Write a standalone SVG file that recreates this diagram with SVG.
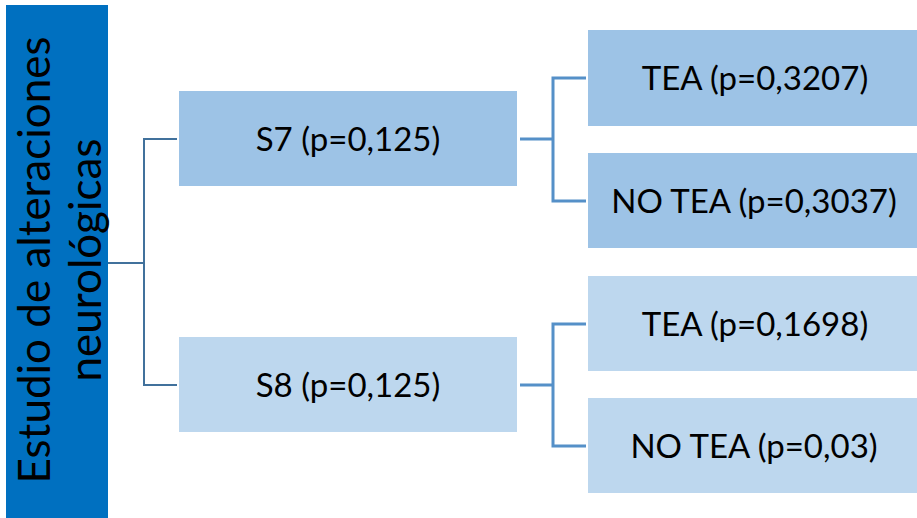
<svg xmlns="http://www.w3.org/2000/svg" width="917" height="518" viewBox="0 0 917 518">
  <style>
    .lbl { font-family: Lato, "Open Sans", "Liberation Sans", sans-serif; font-size: 33px; fill: #000; text-anchor: middle; }
    .root-lbl { font-family: Lato, "Open Sans", "Liberation Sans", sans-serif; font-size: 44px; fill: #000; text-anchor: middle; }
    .dark { fill: #9DC3E6; }
    .light { fill: #BDD7EE; }
    .c1 { fill: none; stroke: #41719C; stroke-width: 2; }
    .c2 { fill: none; stroke: #5590C8; stroke-width: 3; }
  </style>
  <rect width="917" height="518" fill="#FFFFFF"/>

  <g id="connectors">
    <polyline class="c1" points="108,263 144,263"/>
    <polyline class="c1" points="177,139 144,139 144,385 177,385"/>
    <polyline class="c2" points="520,139 553,139"/>
    <polyline class="c2" points="586,78 553,78 553,201 586,201"/>
    <polyline class="c2" points="520,385 553,385"/>
    <polyline class="c2" points="586,324 553,324 553,446 586,446"/>
  </g>

  <g id="root">
    <rect x="6" y="5" width="102" height="513" fill="#0070C0"/>
    <text class="root-lbl" transform="translate(50,260) rotate(-90)">Estudio de alteraciones</text>
    <text class="root-lbl" transform="translate(101,260) rotate(-90)">neurológicas</text>
  </g>

  <g id="s7">
    <rect class="dark" x="179" y="91" width="338" height="95"/>
    <text class="lbl" x="348" y="151">S7 (p=0,125)</text>
  </g>
  <g id="s8">
    <rect class="light" x="179" y="337" width="338" height="95"/>
    <text class="lbl" x="348" y="397">S8 (p=0,125)</text>
  </g>

  <g id="s7-tea">
    <rect class="dark" x="588" y="30" width="329" height="96"/>
    <text class="lbl" x="755" y="90">TEA (p=0,3207)</text>
  </g>
  <g id="s7-notea">
    <rect class="dark" x="588" y="153" width="329" height="95"/>
    <text class="lbl" x="754" y="213">NO TEA (p=0,3037)</text>
  </g>
  <g id="s8-tea">
    <rect class="light" x="588" y="276" width="329" height="95"/>
    <text class="lbl" x="755" y="336">TEA (p=0,1698)</text>
  </g>
  <g id="s8-notea">
    <rect class="light" x="588" y="398" width="329" height="95"/>
    <text class="lbl" x="754" y="458">NO TEA (p=0,03)</text>
  </g>
</svg>
